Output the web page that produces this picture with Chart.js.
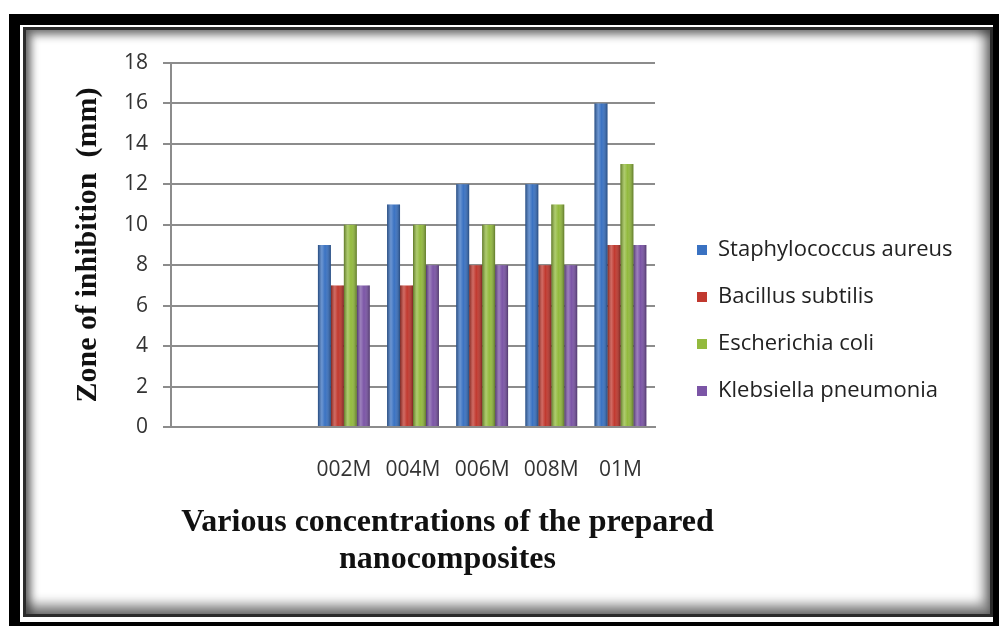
<!DOCTYPE html>
<html>
<head>
<meta charset="utf-8">
<script src="https://cdn.jsdelivr.net/npm/chart.js@4.4.0/dist/chart.umd.min.js"></script>
<style>
  html, body { margin: 0; padding: 0; width: 999px; height: 626px; overflow: hidden; background: #fff; }
  #outer {
    position: absolute; left: 9px; top: 14px; width: 990px; height: 612px;
    box-sizing: border-box; border-style: solid; border-color: #000;
    border-width: 11px 6px 4px 11px;
  }
  #inner {
    position: absolute; left: 23px; top: 27px; width: 970px; height: 590px;
    box-sizing: border-box; border: 3px solid #2b2b2b; background: #fff;
    box-shadow: inset 3px 3px 9px 2px rgba(0,0,0,.5), inset -4px -7px 11px 3px rgba(0,0,0,.45);
  }
  #chart { position: absolute; left: 0; top: 0; }
</style>
</head>
<body>
<div id="outer"></div>
<div id="inner"></div>
<canvas id="chart" width="999" height="626"></canvas>
<script>
// categories (first two slots are empty in the original figure)
const categories = ['', '', '002M', '004M', '006M', '008M', '01M'];
const seriesNames = ['Staphylococcus aureus', 'Bacillus subtilis', 'Escherichia coli', 'Klebsiella pneumonia'];

// zone of inhibition (mm)
const staphylococcus = [null, null, 9, 11, 12, 12, 16];
const bacillus = [null, null, 7, 7, 8, 8, 9];
const escherichia = [null, null, 10, 10, 10, 11, 13];
const klebsiella = [null, null, 7, 8, 8, 8, 9];

const yMin = 0;
const yMax = 18;
const yStep = 2;

const colors = ['#3a72c2', '#c1392f', '#93ba3e', '#7b55a6'];
const gridColor = '#8c8c8c';

// darkens the edges of every bar so it looks a bit like the excel cylinders
const cylinderShade = {
  id: 'cylinderShade',
  afterDatasetsDraw(chart) {
    const ctx = chart.ctx;
    chart.data.datasets.forEach((ds, i) => {
      chart.getDatasetMeta(i).data.forEach((bar) => {
        const { x, y, base, width } = bar.getProps(['x', 'y', 'base', 'width'], true);
        if (!isFinite(y) || !isFinite(base) || !width) return;
        const left = x - width / 2;
        const g = ctx.createLinearGradient(left, 0, left + width, 0);
        g.addColorStop(0, 'rgba(0,0,0,0.35)');
        g.addColorStop(0.3, 'rgba(255,255,255,0.25)');
        g.addColorStop(0.55, 'rgba(255,255,255,0)');
        g.addColorStop(1, 'rgba(0,0,0,0.35)');
        ctx.save();
        ctx.fillStyle = g;
        ctx.fillRect(left, y, width, base - y);
        ctx.restore();
      });
    });
  }
};

// legend sits a little further right than chart.js puts it,
// and its box is widened so the long names are not clipped
const legendNudge = {
  id: 'legendNudge',
  afterLayout(chart) {
    chart.legend.left += 17;
    chart.legend.right = chart.legend.left + 320;
  }
};

const tickFont = { family: '"Open Sans", sans-serif', size: 21 };
const serif = '"Liberation Serif", "Times New Roman", serif';

new Chart(document.getElementById('chart'), {
  type: 'bar',
  data: {
    labels: categories,
    datasets: [
      { label: seriesNames[0], data: staphylococcus, backgroundColor: colors[0] },
      { label: seriesNames[1], data: bacillus, backgroundColor: colors[1] },
      { label: seriesNames[2], data: escherichia, backgroundColor: colors[2] },
      { label: seriesNames[3], data: klebsiella, backgroundColor: colors[3] }
    ]
  },
  options: {
    responsive: false,
    animation: false,
    devicePixelRatio: 1,
    datasets: {
      bar: { categoryPercentage: 0.75, barPercentage: 1.0, borderWidth: 0 }
    },
    layout: { padding: { left: 0, right: 104, top: 63, bottom: 47.5 } },
    scales: {
      x: {
        grid: { display: false, drawTicks: false },
        border: { display: true, color: gridColor, width: 2 },
        ticks: { font: tickFont, color: '#333', padding: 30, maxRotation: 0, autoSkip: false },
        afterFit: (s) => { s.height = 53; }
      },
      y: {
        min: yMin,
        max: yMax,
        ticks: { stepSize: yStep, font: tickFont, color: '#333', padding: 15 },
        grid: { color: gridColor, lineWidth: 2, tickLength: 8 },
        border: { display: true, color: gridColor, width: 2 },
        title: {
          display: true,
          text: 'Zone of inhibition  (mm)',
          font: { family: serif, size: 30, weight: 'bold' },
          color: '#111',
          padding: { top: 70, bottom: 0 }
        },
        afterFit: (s) => { s.width = 171; }
      }
    },
    plugins: {
      tooltip: { enabled: false },
      legend: {
        position: 'right',
        align: 'end',
        fullSize: false,
        maxWidth: 240,
        labels: {
          font: { family: '"Open Sans", sans-serif', size: 22 },
          color: '#222',
          boxWidth: 10,
          boxHeight: 10,
          padding: 25
        }
      },
      title: {
        display: true,
        position: 'bottom',
        text: ['Various concentrations of the prepared', 'nanocomposites'],
        font: { family: serif, size: 32, weight: 'bold', lineHeight: 37 / 32 },
        color: '#111',
        padding: { top: 24.5, bottom: 0 }
      }
    }
  },
  plugins: [cylinderShade, legendNudge]
});
</script>
</body>
</html>
